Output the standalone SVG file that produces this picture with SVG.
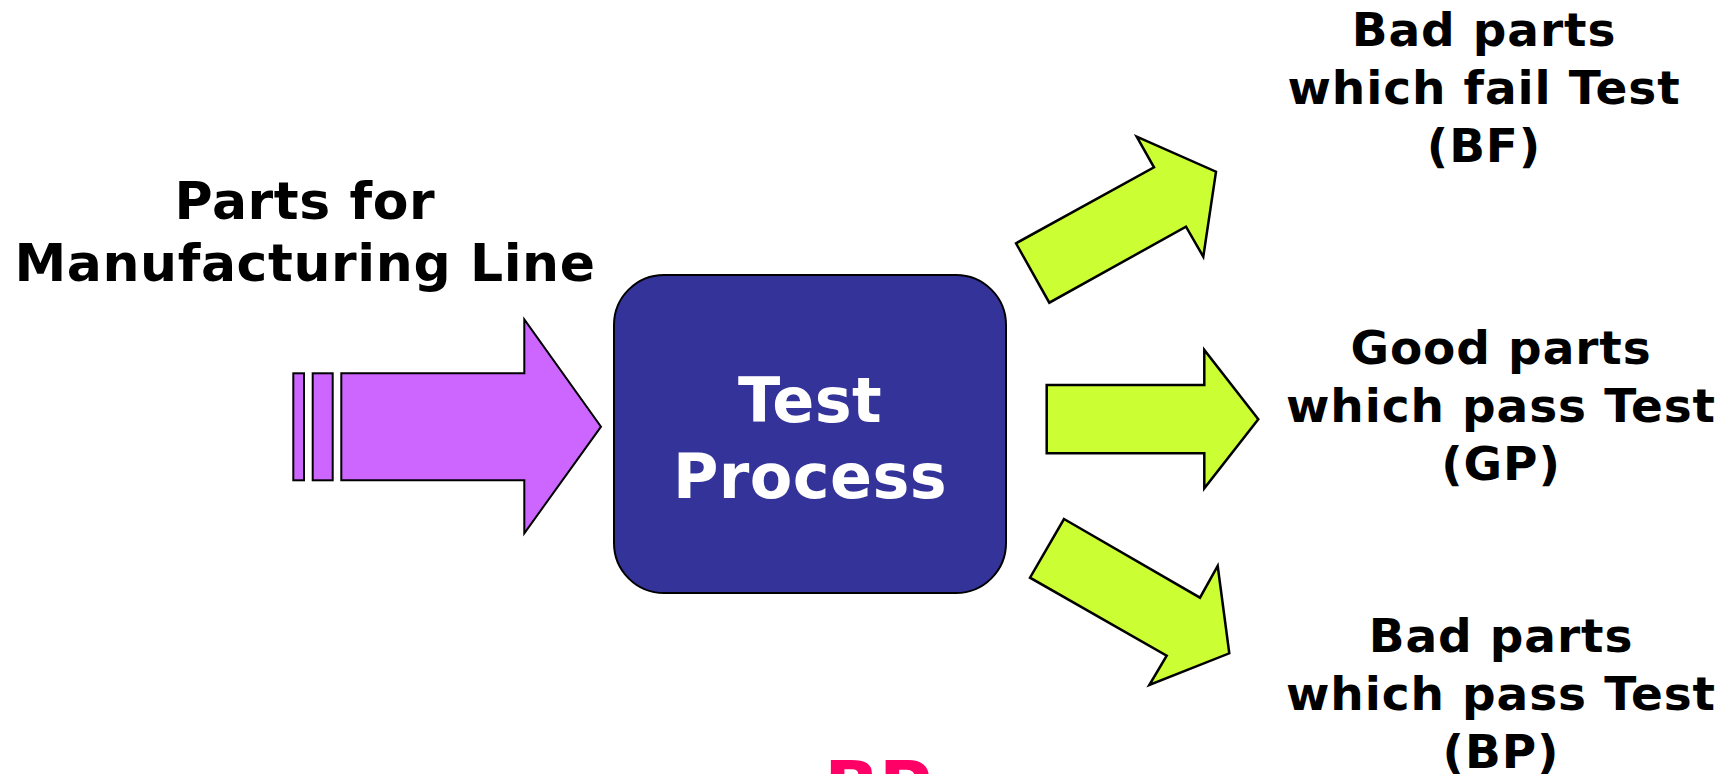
<svg xmlns="http://www.w3.org/2000/svg" width="1730" height="774" viewBox="0 0 1730 774">
  <style>
    .lbl { font-family: "DejaVu Sans", Verdana, sans-serif; font-weight: bold; fill: #000; text-anchor: middle; }
    .in { font-size: 52px; letter-spacing: 0.6px; }
    .out { font-size: 47px; letter-spacing: 0.9px; }
    .box-text { font-family: "DejaVu Sans", Verdana, sans-serif; font-weight: bold; font-size: 62px; letter-spacing: 0.4px; fill: #fff; text-anchor: middle; }
    .feed { fill: #CC66FF; stroke: #000; stroke-width: 2; stroke-linejoin: miter; }
    .flow { fill: #CCFF33; stroke: #000; stroke-width: 2.5; stroke-linejoin: miter; }
    .note { font-family: "DejaVu Sans", Verdana, sans-serif; font-weight: bold; font-size: 72px; fill: #FF0066; text-anchor: middle; }
  </style>

  <rect width="1730" height="774" fill="#fff"/>

  <!-- incoming parts -->
  <g id="input-label">
    <text class="lbl in" x="305" y="219">Parts for</text>
    <text class="lbl in" x="305" y="281">Manufacturing Line</text>
  </g>

  <!-- central process block -->
  <g id="test-process">
    <rect x="614" y="275" width="392" height="318" rx="50" ry="50" fill="#333399" stroke="#000" stroke-width="2"/>
    <text class="box-text" x="810" y="422">Test</text>
    <text class="box-text" x="810" y="498">Process</text>
  </g>

  <!-- outcome labels -->
  <g id="out-bf">
    <text class="lbl out" x="1484" y="46">Bad parts</text>
    <text class="lbl out" x="1484" y="104">which fail Test</text>
    <text class="lbl out" x="1484" y="162">(BF)</text>
  </g>
  <g id="out-gp">
    <text class="lbl out" x="1501" y="364">Good parts</text>
    <text class="lbl out" x="1501" y="422">which pass Test</text>
    <text class="lbl out" x="1501" y="480">(GP)</text>
  </g>
  <g id="out-bp">
    <text class="lbl out" x="1501" y="652">Bad parts</text>
    <text class="lbl out" x="1501" y="710">which pass Test</text>
    <text class="lbl out" x="1501" y="768">(BP)</text>
  </g>

  <!-- flow arrows -->
  <g id="connectors">
    <rect class="feed" x="293.3" y="373.3" width="10.7" height="107"/>
    <rect class="feed" x="312.7" y="373.3" width="20" height="107"/>
    <polygon class="feed" points="341.3,373.3 524.3,373.3 524.3,319.3 601,426.7 524.3,533.3 524.3,480.3 341.3,480.3"/>
    <polygon class="flow" points="1016,243.3 1154,167.3 1136.7,136.7 1216,171.7 1203.3,256.7 1186,226.7 1049.3,302.7"/>
    <polygon class="flow" points="1046.7,385 1204.3,385 1204.3,350 1258.3,419.3 1204.3,488.3 1204.3,453.3 1046.7,453.3"/>
    <polygon class="flow" points="1064,519 1200,597.7 1217.7,566 1229.3,653.3 1149.3,685 1166.7,655.7 1030,577.7"/>
  </g>

  <!-- partially visible caption at the lower edge -->
  <text class="note" x="878" y="812">BP</text>
</svg>
